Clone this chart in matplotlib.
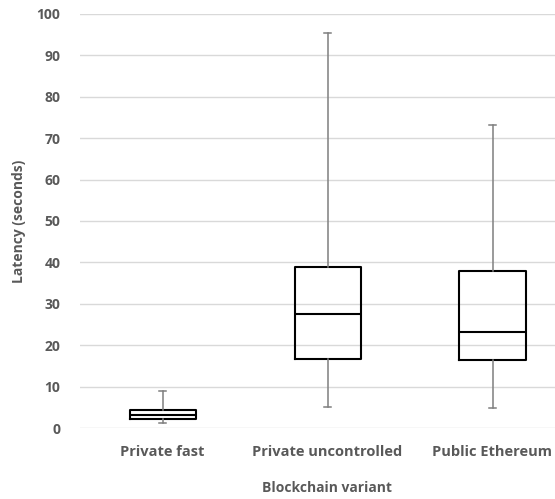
import matplotlib
matplotlib.use("Agg")
import matplotlib.pyplot as plt

categories = ["Private fast", "Private uncontrolled", "Public Ethereum"]
whisker_low = [1.2, 5.1, 4.8]
q1 = [2.2, 16.6, 16.5]
median = [3.1, 27.6, 23.2]
q3 = [4.3, 39.0, 37.9]
whisker_high = [8.9, 95.3, 73.2]
yticks = list(range(0, 101, 10))

plt.rcParams['font.family'] = ['Open Sans', 'DejaVu Sans']

fig = plt.figure(figsize=(5.55, 4.99), dpi=100)
ax = fig.add_axes([80/555, 71/499, 495/555, 414/499])

stats = []
for i, c in enumerate(categories):
    stats.append(dict(label=c, whislo=whisker_low[i], q1=q1[i], med=median[i],
                      q3=q3[i], whishi=whisker_high[i], fliers=[]))

ax.bxp(stats, positions=[1, 2, 3], widths=0.4, showfliers=False,
       boxprops=dict(color='black', linewidth=1.5),
       medianprops=dict(color='black', linewidth=1.5),
       whiskerprops=dict(color='#7f7f7f', linewidth=1.1),
       capprops=dict(color='#7f7f7f', linewidth=1.1), capwidths=0.04)

ax.set_xlim(0.5, 3.5)
ax.set_ylim(0, 100)
ax.set_yticks(yticks)
ax.yaxis.grid(True, color='#d9d9d9', linewidth=1)
ax.set_axisbelow(True)
for s in ax.spines.values():
    s.set_visible(False)
ax.tick_params(axis='both', length=0, colors='#595959')
ax.tick_params(axis='y', pad=14, labelsize=10)
ax.tick_params(axis='x', pad=12, labelsize=10.5)
for lab in ax.get_xticklabels() + ax.get_yticklabels():
    lab.set_fontweight('bold')
ax.set_xlabel("Blockchain variant", fontsize=10, fontweight='bold', color='#595959', labelpad=16)
ax.set_ylabel("Latency (seconds)", fontsize=10, fontweight='bold', color='#595959', labelpad=8)

fig.savefig("out.png", dpi=100)
